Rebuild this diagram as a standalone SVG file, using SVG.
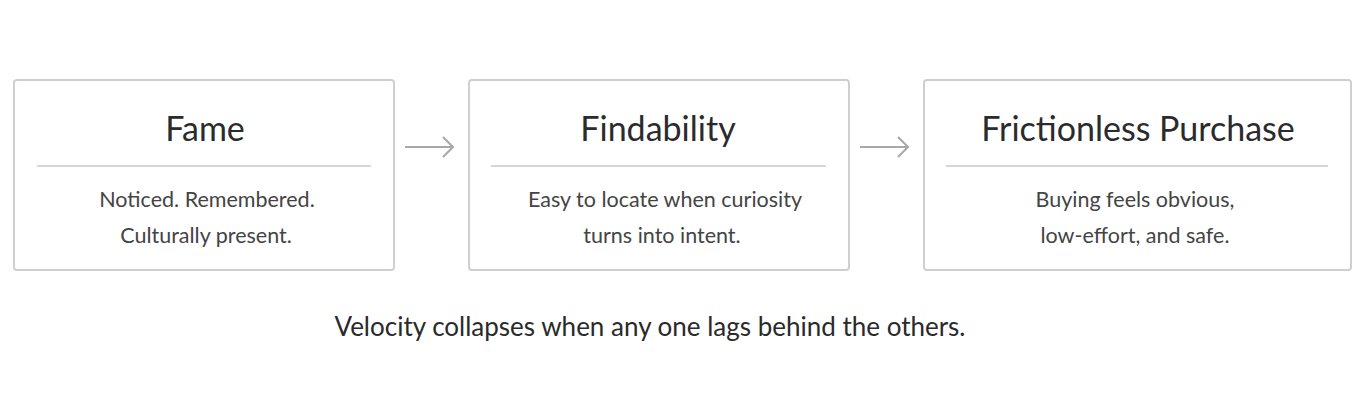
<svg xmlns="http://www.w3.org/2000/svg" width="1365" height="410" viewBox="0 0 1365 410">
<style>
.box{fill:#fff;stroke:#cfcfd2;stroke-width:2}
.div{stroke:#c8c8cc;stroke-width:1.5}
.t{font-family:Lato,"Liberation Sans",sans-serif;font-size:34px;fill:#2b2b2e;text-anchor:middle}
.b{font-family:Lato,"Liberation Sans",sans-serif;font-size:21.5px;fill:#444;text-anchor:middle}
.c{font-family:Lato,"Liberation Sans",sans-serif;font-size:26px;fill:#2a2a2a;text-anchor:middle}
.a{stroke:#a8a8ac;stroke-width:2;fill:none}
</style>
<rect width="1365" height="410" fill="#fff"/>
<g id="fame">
<rect class="box" x="14" y="80" width="380" height="190" rx="3"/>
<text class="t" x="205" y="141">Fame</text>
<line class="div" x1="37" y1="166" x2="371" y2="166"/>
<text class="b" x="207" y="207">Noticed. Remembered.</text>
<text class="b" x="206" y="243">Culturally present.</text>
</g>
<g id="findability">
<rect class="box" x="469" y="80" width="380" height="190" rx="3"/>
<text class="t" x="658" y="141">Findability</text>
<line class="div" x1="491" y1="166" x2="826" y2="166"/>
<text class="b" x="665" y="207">Easy to locate when curiosity</text>
<text class="b" x="662" y="243">turns into intent.</text>
</g>
<g id="purchase">
<rect class="box" x="924" y="80" width="427" height="190" rx="3"/>
<text class="t" x="1138" y="141">Frictionless Purchase</text>
<line class="div" x1="946" y1="166" x2="1328" y2="166"/>
<text class="b" x="1135" y="207">Buying feels obvious,</text>
<text class="b" x="1135" y="243">low-effort, and safe.</text>
</g>
<g id="connectors">
<path class="a" d="M405 147H453M443 137L453 147L443 157"/>
<path class="a" d="M860 147H908M898 137L908 147L898 157"/>
</g>
<text class="c" x="650" y="336">Velocity collapses when any one lags behind the others.</text>
</svg>
